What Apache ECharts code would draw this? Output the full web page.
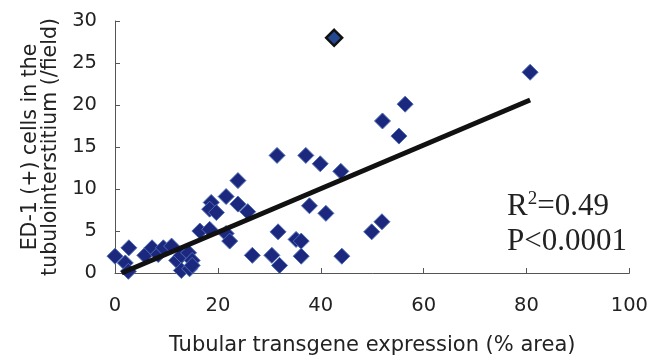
<!DOCTYPE html>
<html><head><meta charset="utf-8">
<script src="https://cdn.jsdelivr.net/npm/echarts@6/dist/echarts.min.js"></script>
<style>html,body{margin:0;padding:0;background:#fff}#c{width:651px;height:361px}</style>
</head><body><div id="c"></div>
<script>
// Data
const xValues = [0, 2.7, 2, 2.6, 5.8, 7.2, 8.4, 9.4, 11, 12, 12.9, 12.9, 14.3, 14.5, 15, 15, 16.5, 18.4, 18.7, 18.4, 19.7, 21.6, 21.6, 22.3, 23.9, 23.9, 25.8, 26.7, 30.5, 31.5, 31.7, 32, 35.2, 36.2, 36.2, 37.1, 37.8, 39.9, 41, 43.9, 44.1, 49.9, 51.9, 52, 55.2, 56.4, 80.7];
const yValues = [2, 3, 1.2, 0.2, 2.1, 3, 2.2, 3, 3.2, 1.5, 2.1, 0.3, 2.4, 0.5, 1.5, 0.9, 5, 5.2, 8.4, 7.6, 7.2, 9.1, 4.7, 3.8, 11, 8.2, 7.3, 2.1, 2.1, 14, 4.9, 0.9, 4, 3.8, 2, 14, 8, 13, 7.1, 12.1, 2, 4.9, 6.1, 18.1, 16.3, 20.1, 23.9];
const outlierX = [42.6];
const outlierY = [28];
const fitX = [1.3, 80.7];
const fitY = [0, 20.6];
const xTicks = [0, 20, 40, 60, 80, 100];
const yTicks = [0, 5, 10, 15, 20, 25, 30];
const xTitle = 'Tubular transgene expression (% area)';
const yTitle = 'ED-1 (+) cells in the\ntubulointerstitium (/field)';
const statR = 'R';
const statRsup = '2';
const statRval = '=0.49';
const statP = 'P<0.0001';

const chart = echarts.init(document.getElementById('c'));
const font = 'DejaVu Sans';
const axisCommon = {
  axisLine: {lineStyle: {color: '#555', width: 1}},
  axisTick: {inside: true, length: 5, lineStyle: {color: '#555'}},
  splitLine: {show: false},
  axisLabel: {fontFamily: font, fontSize: 19.5, color: '#222'}
};
chart.setOption({
  animation: false,
  grid: {left: 115, right: 20, top: 21, bottom: 85},
  xAxis: Object.assign({}, axisCommon, {
    type: 'value', min: xTicks[0], max: xTicks[xTicks.length-1], interval: 20,
    name: xTitle, nameLocation: 'middle', nameGap: 62,
    nameTextStyle: {fontFamily: font, fontSize: 21, color: '#222'},
    axisLabel: Object.assign({}, axisCommon.axisLabel, {margin: 23})
  }),
  yAxis: Object.assign({}, axisCommon, {
    type: 'value', min: yTicks[0], max: yTicks[yTicks.length-1], interval: 5,
    name: yTitle, nameLocation: 'middle', nameGap: 45, nameRotate: 90,
    nameTextStyle: {fontFamily: font, fontSize: 20.5, color: '#222', lineHeight: 20},
    axisLabel: Object.assign({}, axisCommon.axisLabel, {margin: 18})
  }),
  series: [
    {type: 'scatter', symbol: 'diamond', symbolSize: 16, z: 2,
     itemStyle: {color: '#1c277e', borderColor: '#4d6db3', borderWidth: 1, opacity: 1},
     data: xValues.map((x, i) => [x, yValues[i]])},
    {type: 'scatter', symbol: 'diamond', symbolSize: 16, z: 2,
     itemStyle: {color: '#24488f', borderColor: '#111', borderWidth: 2.5, opacity: 1},
     data: outlierX.map((x, i) => [x, outlierY[i]])},
    {type: 'line', z: 5, symbol: 'none', silent: true,
     lineStyle: {color: '#111', width: 5},
     data: fitX.map((x, i) => [x, fitY[i]])}
  ],
  graphic: [
    {type: 'text', left: 507, top: 190, z: 10,
     style: {text: '{a|' + statR + '}{s|' + statRsup + '}{a|' + statRval + '}',
       rich: {a: {fontFamily: 'Liberation Serif', fontSize: 31, fill: '#222'},
              s: {fontFamily: 'Liberation Serif', fontSize: 19, fill: '#222', verticalAlign: 'top', padding: [0,0,14,0]}}}},
    {type: 'text', left: 507, top: 226, z: 10,
     style: {text: statP, fontFamily: 'Liberation Serif', fontSize: 31, fill: '#222'}}
  ]
});
</script></body></html>
